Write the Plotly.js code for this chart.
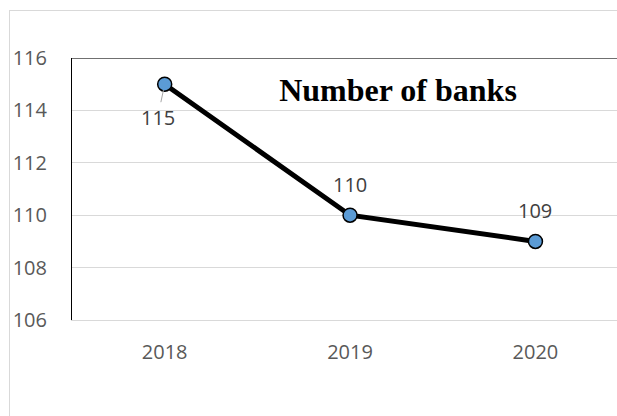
<!DOCTYPE html>
<html>
<head>
<meta charset="utf-8">
<script src="https://cdn.plot.ly/plotly-3.0.1.min.js"></script>
<style>
  html, body { margin: 0; padding: 0; background: #ffffff; overflow: hidden; }
  #wrap { position: relative; width: 617px; height: 416px; }
  #frame { position: absolute; left: 9px; top: 10px; width: 700px; height: 500px;
           border-left: 1px solid #D9D9D9; border-top: 1px solid #D9D9D9; box-sizing: border-box; }
  #chart { position: absolute; left: 0; top: 0; width: 617px; height: 416px; }
</style>
</head>
<body>
<div id="wrap">
  <div id="frame"></div>
  <div id="chart"></div>
</div>
<script>
// ---- data ----
const years = ['2018', '2019', '2020'];
const banks = [115, 110, 109];
const yTicks = [106, 108, 110, 112, 114, 116];
const chartTitle = 'Number of banks';

// label placement (pixels, relative to the point)
const labelOffsets = [
  { arrow: true, ax: -7, ay: 33 },
  { arrow: false, yshift: 31 },
  { arrow: false, yshift: 31 }
];

const annotations = years.map((yr, i) => {
  const o = labelOffsets[i];
  const a = {
    x: i, y: banks[i], xref: 'x', yref: 'y',
    text: String(banks[i]),
    font: { family: 'Open Sans, sans-serif', size: 20, color: '#404040' },
    showarrow: o.arrow
  };
  if (o.arrow) {
    a.ax = o.ax; a.ay = o.ay;
    a.arrowhead = 0; a.arrowwidth = 1; a.arrowcolor = '#A6A6A6'; a.standoff = 6;
  } else {
    a.yshift = o.yshift;
  }
  return a;
});

const trace = {
  x: years,
  y: banks,
  type: 'scatter',
  mode: 'lines+markers',
  line: { color: '#000000', width: 5 },
  marker: { color: '#5B9BD5', size: 14, line: { color: '#000000', width: 1.5 } },
  hoverinfo: 'skip',
  cliponaxis: false
};

const layout = {
  width: 617, height: 416, autosize: false,
  margin: { l: 72, r: 0, t: 58, b: 96 },
  paper_bgcolor: 'rgba(0,0,0,0)',
  plot_bgcolor: 'rgba(0,0,0,0)',
  showlegend: false,
  title: {
    text: '<b>' + chartTitle + '</b>',
    font: { family: 'Liberation Serif, Times New Roman, serif', size: 32, color: '#000000' },
    x: 398 / 617, xref: 'container', xanchor: 'center',
    y: 1 - 90 / 416, yref: 'container', yanchor: 'middle'
  },
  xaxis: {
    type: 'category',
    range: [-0.5, 2.44],
    showgrid: false,
    zeroline: false,
    showline: true, linecolor: '#D9D9D9', linewidth: 1,
    ticks: '',
    ticklabelstandoff: 14,
    tickfont: { family: 'Open Sans, sans-serif', size: 20, color: '#595959' }
  },
  yaxis: {
    range: [106, 116],
    tickvals: yTicks,
    ticktext: yTicks.map(String),
    showgrid: true, gridcolor: '#D9D9D9', gridwidth: 1,
    zeroline: false,
    showline: true, linecolor: '#000000', linewidth: 1,
    ticks: '',
    ticklabelstandoff: 20,
    tickfont: { family: 'Open Sans, sans-serif', size: 20, color: '#595959' }
  },
  shapes: [
    { type: 'line', xref: 'paper', yref: 'y', x0: 0, x1: 1, y0: 116, y1: 116,
      line: { color: '#404040', width: 1.5 } }
  ],
  annotations: annotations
};

Plotly.newPlot('chart', [trace], layout, { displayModeBar: false, staticPlot: true });
</script>
</body>
</html>
